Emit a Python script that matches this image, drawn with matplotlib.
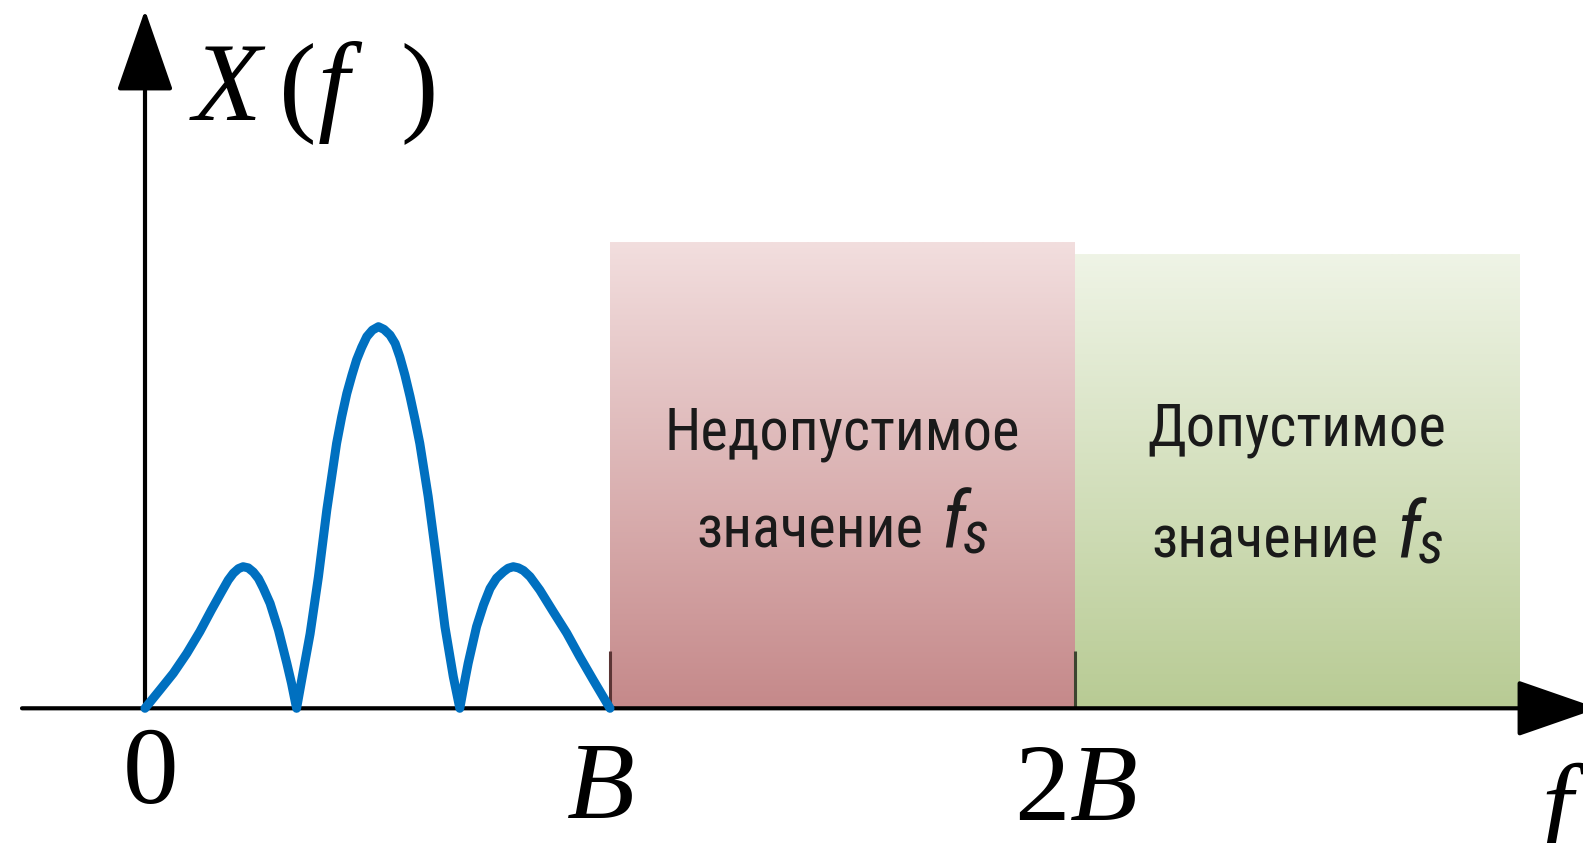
import numpy as np
import matplotlib
matplotlib.use("Agg")
import matplotlib.pyplot as plt
from matplotlib import font_manager
from matplotlib.font_manager import FontProperties
from matplotlib.colors import to_rgb

# spectrum curve, x in units of B, y relative to the main lobe
curve_x = [0.0, 0.032, 0.061, 0.090, 0.118, 0.143, 0.165, 0.179, 0.190, 0.201,
           0.211, 0.222, 0.233, 0.244, 0.254, 0.269, 0.287, 0.305, 0.315, 0.326,
           0.340, 0.355, 0.373, 0.391, 0.412, 0.423, 0.434, 0.445, 0.455, 0.466,
           0.477, 0.489, 0.502, 0.514, 0.527, 0.538, 0.548, 0.559, 0.570, 0.581,
           0.591, 0.609, 0.627, 0.645, 0.663, 0.677, 0.688, 0.695, 0.713, 0.728,
           0.742, 0.756, 0.771, 0.781, 0.792, 0.803, 0.814, 0.828, 0.849, 0.878,
           0.907, 0.935, 0.964, 1.0]
curve_y = [0.0, 0.048, 0.092, 0.144, 0.201, 0.258, 0.306, 0.336, 0.354, 0.366,
           0.371, 0.368, 0.357, 0.340, 0.316, 0.275, 0.205, 0.118, 0.066, 0.0,
           0.095, 0.195, 0.345, 0.520, 0.694, 0.764, 0.825, 0.873, 0.913, 0.946,
           0.974, 0.991, 1.0, 0.993, 0.978, 0.956, 0.921, 0.873, 0.817, 0.755,
           0.694, 0.555, 0.389, 0.214, 0.083, 0.0, 0.074, 0.118, 0.214, 0.271,
           0.314, 0.341, 0.358, 0.367, 0.371, 0.368, 0.361, 0.345, 0.310, 0.253,
           0.197, 0.135, 0.074, 0.0]

# sampling-rate bands
band_left = [1.0, 2.0]
band_right = [2.0, 2.956]
band_top = [1.219, 1.189]
band_word = ["Недопустимое", "Допустимое"]
band_word2 = ["значение", "значение"]

tick_pos = [0, 1, 2]
tick_labels = ["$0$", "$B$", "$2B$"]

# layout (reference pixels -> data units)
W, H = 1583, 843
X0, XU = 145.0, 465.0
Y0, YU = 708.3, 381.6


def px_x(p):
    return (p - X0) / XU


def px_y(p):
    return (Y0 - p) / YU


def weight_num(w):
    if isinstance(w, int):
        return w
    return font_manager.weight_dict.get(str(w).lower(), 400)


def pick_condensed():
    # look for a narrow sans face (regular + italic) among the installed fonts
    prefer = ["Liberation Sans Narrow", "Arimo", "Roboto Condensed", "Roboto",
              "Noto Sans", "Open Sans", "DejaVu Sans", "Lato", "Inter"]
    found = {}
    for f in font_manager.fontManager.ttflist:
        narrow = ("Narrow" in f.name or "Condensed" in f.name
                  or str(f.stretch) in ("condensed", "semi-condensed", "extra-condensed"))
        if not narrow or str(f.stretch) in ("extra-condensed", "ultra-condensed"):
            continue
        if weight_num(f.weight) != 400:
            continue
        key = f.name.replace(" Narrow", "").replace(" Condensed", "")
        slot = found.setdefault(key, {})
        slot["italic" if f.style != "normal" else "normal"] = f.fname
    for name in prefer:
        if name in found and "normal" in found[name]:
            return found[name]
    for slot in found.values():
        if "normal" in slot:
            return slot
    return None


faces = pick_condensed()
if faces:
    reg = FontProperties(fname=faces["normal"])
    ita = FontProperties(fname=faces.get("italic", faces["normal"]))
else:
    reg = FontProperties(family="Liberation Sans")
    ita = FontProperties(family="Liberation Sans", style="italic")
serif = FontProperties(family="Liberation Serif")
serif_it = FontProperties(family="Liberation Serif", style="italic")

plt.rcParams["mathtext.fontset"] = "custom"
plt.rcParams["mathtext.rm"] = "Liberation Serif"
plt.rcParams["mathtext.it"] = "Liberation Serif:italic"

fig = plt.figure(figsize=(W / 100, H / 100), dpi=100)
ax = fig.add_axes([0, 0, 1, 1])
renderer = fig.canvas.get_renderer()

top_cols = ["#F2DEDE", "#EFF4E6"]
bot_cols = ["#C5898A", "#B8CB94"]
edge_cols = ["#5b3535", "#3c4530"]
t = np.linspace(0, 1, 256)[:, None]
for i in range(2):
    grad = (1 - t) * np.array(to_rgb(top_cols[i])) + t * np.array(to_rgb(bot_cols[i]))
    ax.imshow(grad[:, None, :], extent=[band_left[i], band_right[i], 0, band_top[i]],
              aspect="auto", origin="upper", interpolation="bilinear", zorder=1)
    ax.vlines(band_left[i], 0, px_y(651), colors=edge_cols[i], lw=2.2, zorder=2)

ax.set_xlim(px_x(0), px_x(W))
ax.set_ylim(px_y(H), px_y(0))
ax.axis("off")

arrow = "-|>,head_length=0.72,head_width=0.25"
ax.annotate("", xy=(0, px_y(10)), xytext=(0, 0), annotation_clip=False,
            arrowprops=dict(arrowstyle=arrow, mutation_scale=72, lw=3, color="black",
                            shrinkA=0, shrinkB=0), zorder=3)
ax.annotate("", xy=(px_x(1598), 0), xytext=(px_x(22), 0), annotation_clip=False,
            arrowprops=dict(arrowstyle=arrow, mutation_scale=72, lw=3, color="black",
                            shrinkA=0, shrinkB=0), zorder=3)

ax.plot(curve_x, curve_y, color="#0070C0", lw=6.5, solid_joinstyle="round",
        solid_capstyle="round", zorder=4)

# X(f) built from pieces so the brackets stay upright
for s, fp, left in [("X", serif_it, 193), ("(", serif, 279), ("f", serif_it, 318),
                    (")", serif, 400)]:
    ax.text(px_x(left), px_y(120), s, fontproperties=fp, fontsize=81,
            ha="left", va="baseline")

label_base = [803, 818, 820]
label_dx = [4, -10, 0]
for pos, lab, base, dx in zip(tick_pos, tick_labels, label_base, label_dx):
    ax.text(pos + dx / XU, px_y(base), lab, fontsize=80, ha="center", va="baseline")
ax.text(px_x(1541), px_y(841), "$f$", fontsize=80, ha="left", va="baseline")

# size the band text so that "Недопустимое" is about 355 px wide
probe = ax.text(0, 0, band_word[0], fontproperties=reg, fontsize=45)
word_size = 45 * 355 / probe.get_window_extent(renderer).width
probe.remove()

line1_base = [450, 445]
line2_base = [548, 558]
inv = ax.transData.inverted()
for i in range(2):
    xc = (band_left[i] + band_right[i]) / 2
    ax.text(xc, px_y(line1_base[i]), band_word[i], fontproperties=reg,
            fontsize=word_size, color="#1a1a1a", ha="center", va="baseline")
    yb = px_y(line2_base[i])
    t1 = ax.text(0, yb, band_word2[i], fontproperties=reg, fontsize=word_size,
                 color="#1a1a1a", ha="left", va="baseline")
    t2 = ax.text(0, yb, "f", fontproperties=ita, fontsize=word_size * 1.35,
                 color="#1a1a1a", ha="left", va="baseline")
    t3 = ax.text(0, yb - 6 / YU, "s", fontproperties=ita, fontsize=word_size,
                 color="#1a1a1a", ha="left", va="baseline")
    w1 = t1.get_window_extent(renderer).width
    w2 = t2.get_window_extent(renderer).width
    w3 = t3.get_window_extent(renderer).width
    gap1, gap2 = 18, -3
    xc_px = ax.transData.transform((xc, 0))[0]
    start = xc_px - (w1 + gap1 + w2 + gap2 + w3) / 2
    t1.set_x(inv.transform((start, 0))[0])
    t2.set_x(inv.transform((start + w1 + gap1, 0))[0])
    t3.set_x(inv.transform((start + w1 + gap1 + w2 + gap2, 0))[0])

fig.savefig("out.png", dpi=100)
